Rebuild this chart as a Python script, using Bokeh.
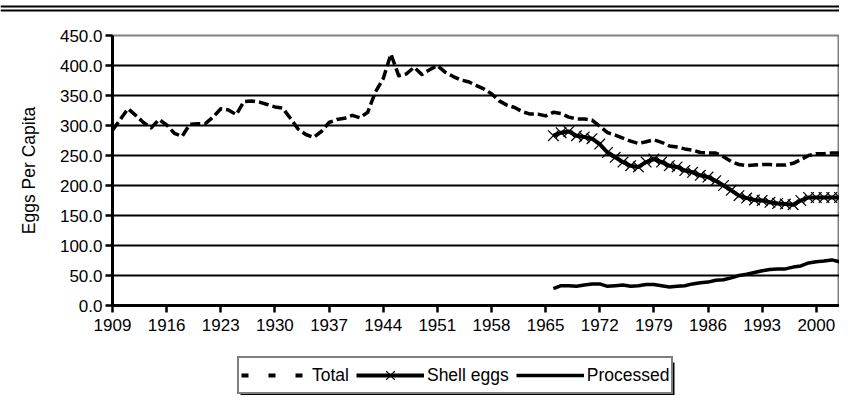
from bokeh.plotting import figure
from bokeh.layouts import column
from bokeh.models import (Range1d, FixedTicker, NumeralTickFormatter, Legend,
                          LegendItem)
from bokeh.embed import file_html
from bokeh.resources import INLINE

# ---------------- data ----------------
years_total = list(range(1909, 2004))
total = [292, 310, 328, 317, 305, 296, 310, 301, 287, 282,
         302, 303, 303, 314, 328, 326, 318, 340, 341, 339,
         335, 331, 329, 312, 294, 285, 280, 290, 305, 310,
         312, 317, 313, 322, 356, 378, 419, 383, 386, 397,
         385, 393, 400, 389, 382, 376, 373, 367, 361, 353,
         341, 334, 330, 323, 319, 319, 316, 322, 320, 314,
         311, 311, 309, 299, 288, 284, 279, 274, 270, 273,
         276, 272, 266, 264, 261, 259, 255, 254, 254, 248,
         240, 235, 233, 234, 235, 235, 234, 234, 237, 243,
         250, 253, 253, 254, 254]

years_split = list(range(1966, 2004))
shell = [283, 288, 290, 283, 281, 278, 269, 255, 247, 239,
         233, 231, 239, 244, 239, 233, 231, 225, 222, 217,
         214, 208, 200, 192, 183, 179, 176, 175, 172, 170,
         169, 168, 175, 180, 180, 180, 180, 180]
processed = [28, 33, 33, 32, 34, 36, 36, 32, 33, 34,
             32, 33, 35, 35, 33, 31, 32, 33, 36, 38,
             39, 42, 43, 46, 50, 52, 55, 58, 60, 61,
             61, 64, 66, 71, 73, 74, 76, 73]

x_ticks = list(range(1909, 2001, 7))
y_ticks = list(range(0, 451, 50))
series_labels = ["Total", "Shell eggs", "Processed"]
y_title = "Eggs Per Capita"

FONT = "Liberation Sans"
W = 839
NAN = [float("nan")]


def bare(height, xr, yr):
    f = figure(width=W, height=height, x_range=xr, y_range=yr, title=None,
               output_backend="svg", toolbar_location=None,
               x_axis_location=None, y_axis_location=None,
               min_border=0, min_border_left=0, min_border_right=0,
               min_border_top=0, min_border_bottom=0)
    f.frame_align = False
    f.grid.visible = False
    f.outline_line_color = None
    f.background_fill_color = "white"
    f.border_fill_color = "white"
    return f


# ---------------- double rule at the top (pixel-unit ranges) ----------------
rule = bare(12, Range1d(0, W), Range1d(0, 12))
rule.quad(left=[0, 0], right=[W, W], bottom=[5, 1], top=[7, 3],
          fill_color="black", line_color=None)

# ---------------- main chart ----------------
p = figure(width=W, height=333, title=None,
           x_range=Range1d(1909, 2003), y_range=Range1d(0, 450),
           output_backend="svg", toolbar_location=None,
           min_border_left=112, min_border_right=0,
           min_border_top=23, min_border_bottom=40)
p.frame_align = False
p.background_fill_color = "white"
p.border_fill_color = "white"
p.outline_line_color = "#808080"
p.outline_line_width = 2

p.xgrid.visible = False
p.ygrid.ticker = FixedTicker(ticks=y_ticks[1:-1])
p.ygrid.grid_line_color = "black"
p.ygrid.grid_line_width = 2

p.xaxis.ticker = FixedTicker(ticks=x_ticks)
p.yaxis.ticker = FixedTicker(ticks=y_ticks)
p.yaxis.formatter = NumeralTickFormatter(format="0.0")
for ax in (p.xaxis[0], p.yaxis[0]):
    ax.axis_line_color = "black"
    ax.axis_line_width = 3
    ax.major_tick_line_color = "black"
    ax.major_tick_line_width = 2.5
    ax.major_tick_out = 7
    ax.major_tick_in = 0
    ax.minor_tick_out = 0
    ax.minor_tick_in = 0
    ax.major_label_text_font = FONT
    ax.major_label_text_font_size = "17px"
    ax.major_label_text_color = "black"
p.xaxis.major_label_standoff = 6
p.yaxis.major_label_standoff = 3
p.yaxis.axis_label = y_title
p.yaxis.axis_label_text_font = FONT
p.yaxis.axis_label_text_font_size = "17.5px"
p.yaxis.axis_label_text_font_style = "normal"
p.yaxis.axis_label_text_color = "black"
p.yaxis.axis_label_standoff = 18

p.line(years_total, total, line_color="black", line_width=3.5,
       line_dash="10 4", line_join="round")
p.line(years_split, shell, line_color="black", line_width=4, line_join="round")
p.scatter(years_split, shell, marker="x", size=15, line_color="black",
          line_width=1.2)
p.line(years_split, processed, line_color="black", line_width=3.5,
       line_join="round")

# ---------------- legend strip (pixel-unit ranges) ----------------
LH = 50
leg = bare(LH, Range1d(0, W), Range1d(0, LH))
# drop shadow of the legend box (right and bottom edges)
leg.quad(left=[240], right=[674], bottom=[0], top=[33],
         fill_color="black", line_color=None)
s_total = leg.line(NAN, NAN, line_color="black", line_width=4,
                   line_dash="7 20")
s_shell = leg.line(NAN, NAN, line_color="black", line_width=4)
s_shell_x = leg.scatter(NAN, NAN, marker="x", size=15, line_color="black",
                        line_width=1.2)
s_proc = leg.line(NAN, NAN, line_color="black", line_width=3.5)

legend = Legend(items=[
    LegendItem(label=series_labels[0], renderers=[s_total]),
    LegendItem(label=series_labels[1], renderers=[s_shell, s_shell_x]),
    LegendItem(label=series_labels[2], renderers=[s_proc]),
], orientation="horizontal", location=(237, 1),
    glyph_width=68, glyph_height=30, label_standoff=3, spacing=7,
    padding=2, margin=0, label_height=21,
    border_line_color="black", border_line_width=2,
    background_fill_color="white", background_fill_alpha=1,
    label_text_font=FONT, label_text_font_size="17.5px",
    label_text_color="black")
leg.add_layout(legend, "center")

layout = column(rule, p, leg, spacing=0)
open("out.html", "w").write(file_html(layout, INLINE))
